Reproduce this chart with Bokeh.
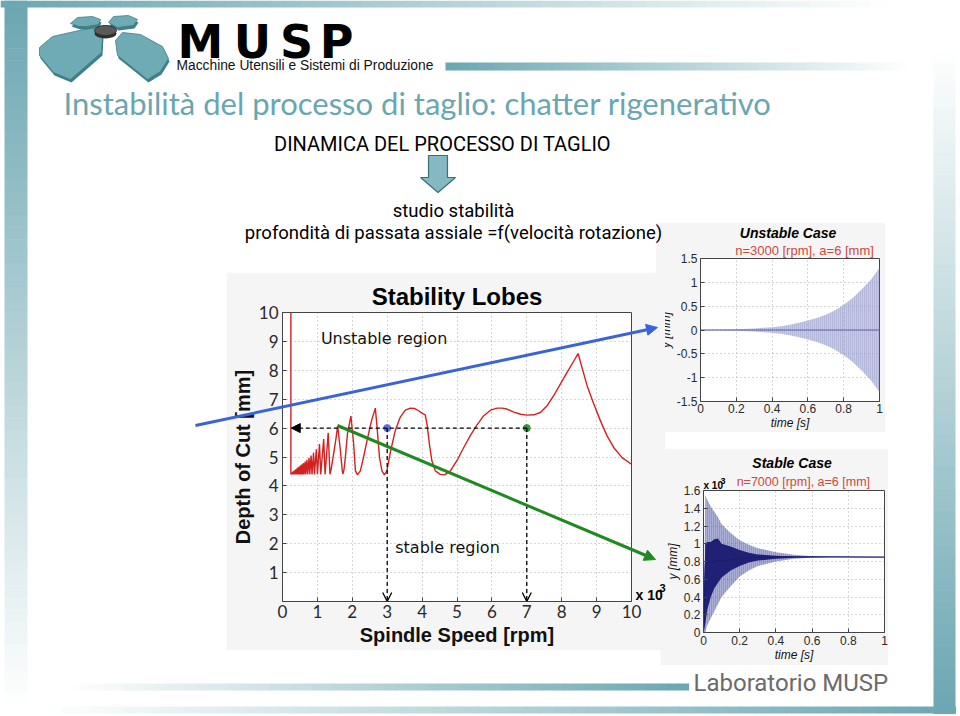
import numpy as np
from bokeh.plotting import figure
from bokeh.models import (Range1d, FixedTicker, NumeralTickFormatter, Label, Title,
                          Arrow, NormalHead, OpenHead, GridBox, Column)
from bokeh.embed import file_html
from bokeh.resources import INLINE

# ------------------------------------------------------------------ data
# stability lobe boundary (spindle speed in 10^3 rpm, depth of cut in mm)
lobe_speed_krpm = [
    0.24, 0.24,
    0.27, 0.28, 0.30, 0.31, 0.33, 0.34, 0.36, 0.37, 0.39, 0.40, 0.42, 0.43,
    0.45, 0.46, 0.48, 0.495, 0.52, 0.535, 0.56, 0.575, 0.60, 0.615, 0.65, 0.665,
    0.70, 0.72, 0.76, 0.78, 0.82, 0.845, 0.89, 0.915, 0.97, 1.00, 1.06, 1.095,
    1.18, 1.22, 1.31, 1.36, 1.40, 1.47, 1.53, 1.58,
    1.65, 1.71, 1.73, 1.76, 1.80, 1.86, 1.96,
    2.04, 2.09, 2.15, 2.23, 2.32, 2.44, 2.55, 2.66,
    2.71, 2.78, 2.85, 2.92, 2.99, 3.09, 3.23, 3.37, 3.52, 3.66, 3.78, 3.90, 4.02, 4.09,
    4.14, 4.21, 4.28, 4.38, 4.52, 4.65, 4.81, 5.00, 5.19, 5.38, 5.57, 5.76, 5.96,
    6.15, 6.29, 6.43, 6.63, 6.82, 7.01, 7.20, 7.39, 7.58, 7.77, 7.96, 8.15, 8.35, 8.47,
    8.58, 8.73, 8.92, 9.11, 9.30, 9.49, 9.73, 10.0,
]
lobe_depth_mm = [
    10.0, 4.40,
    4.46, 4.40, 4.49, 4.40, 4.52, 4.40, 4.55, 4.40, 4.58, 4.40, 4.61, 4.40,
    4.64, 4.40, 4.67, 4.40, 4.71, 4.40, 4.75, 4.40, 4.79, 4.40, 4.84, 4.40,
    4.90, 4.40, 4.97, 4.40, 5.05, 4.40, 5.15, 4.40, 5.27, 4.40, 5.45, 4.40,
    5.62, 4.40, 5.84, 4.40, 4.62, 5.15, 5.62, 6.08,
    5.33, 4.55, 4.41, 4.55, 4.98, 5.79, 6.42,
    5.44, 4.52, 4.38, 4.52, 4.98, 5.67, 6.25, 6.69,
    6.02, 4.98, 4.52, 4.38, 4.52, 5.16, 5.91, 6.37, 6.62, 6.69, 6.68, 6.60, 6.50, 6.46,
    6.14, 5.44, 4.87, 4.52, 4.40, 4.38, 4.52, 4.88, 5.32, 5.74, 6.10, 6.42, 6.62,
    6.69, 6.69, 6.66, 6.55, 6.48, 6.45, 6.46, 6.54, 6.77, 7.12, 7.52, 7.92, 8.33, 8.58,
    8.10, 7.46, 6.83, 6.25, 5.73, 5.33, 4.98, 4.75,
]
test_speed_krpm = [3, 7]
test_depth_mm = [6, 6]
test_colors = ["#5b6fe3", "#2f9a35"]
dashed_from_krpm = 0.25
speed_ticks = [0, 1, 2, 3, 4, 5, 6, 7, 8, 9, 10]
depth_ticks = [1, 2, 3, 4, 5, 6, 7, 8, 9, 10]

# unstable case (n=3000 rpm): envelope of the growing vibration
unstable_time_s = [0.0, 0.1, 0.2, 0.3, 0.35, 0.4, 0.45, 0.5, 0.55, 0.6, 0.65,
                   0.7, 0.75, 0.8, 0.85, 0.9, 0.95, 1.0]
unstable_env_mm = [0.004, 0.008, 0.015, 0.03, 0.045, 0.06, 0.08, 0.11, 0.15, 0.2, 0.25,
                   0.32, 0.41, 0.53, 0.67, 0.85, 1.05, 1.3]
unstable_yticks = [-1.5, -1, -0.5, 0, 0.5, 1, 1.5]
time_ticks = [0, 0.2, 0.4, 0.6, 0.8, 1.0]

# stable case (n=7000 rpm): envelope of the decaying vibration (x 10^-3 mm)
stable_time_s = [0.0, 0.01, 0.02, 0.04, 0.06, 0.08, 0.10, 0.15, 0.20, 0.25, 0.30,
                 0.40, 0.50, 0.60, 0.70, 1.00]
stable_upper = [0.0, 1.55, 1.50, 1.42, 1.36, 1.30, 1.22, 1.12, 1.04, 0.99, 0.95,
                0.905, 0.875, 0.86, 0.855, 0.85]
stable_lower = [0.0, 0.0, 0.08, 0.16, 0.24, 0.32, 0.40, 0.52, 0.63, 0.70, 0.75,
                0.80, 0.83, 0.842, 0.848, 0.85]
stable_core_upper = [0.0, 1.00, 1.02, 1.02, 1.05, 1.06, 1.00, 0.97, 0.93, 0.90, 0.88,
                     0.865, 0.857, 0.853, 0.851, 0.85]
stable_core_lower = [0.0, 0.10, 0.25, 0.40, 0.50, 0.56, 0.62, 0.70, 0.75, 0.79, 0.81,
                     0.83, 0.843, 0.848, 0.85, 0.85]
stable_yticks = [0, 0.2, 0.4, 0.6, 0.8, 1.0, 1.2, 1.4, 1.6]

# ------------------------------------------------------------------ helpers
TEAL = (108, 167, 178)
WHITE = (255, 255, 255)
COND = "Roboto"


def mix(c1, c2, t):
    return "#%02x%02x%02x" % tuple(int(round(a + (b - a) * t)) for a, b in zip(c1, c2))


def hgrad(p, x0, x1, y0, y1, c0, c1, n=60):
    e = np.linspace(x0, x1, n + 1)
    cols = [mix(c0, c1, i / (n - 1)) for i in range(n)]
    p.quad(left=e[:-1], right=e[1:] + 0.6, top=[y0] * n, bottom=[y1] * n,
           fill_color=cols, line_color=None)


def vgrad(p, x0, x1, y0, y1, c0, c1, n=60):
    e = np.linspace(y0, y1, n + 1)
    cols = [mix(c0, c1, i / (n - 1)) for i in range(n)]
    p.quad(left=[x0] * n, right=[x1] * n, top=e[:-1], bottom=e[1:] + 0.6,
           fill_color=cols, line_color=None)


def style_chart(p, tick_font, tick_size, label_size, label_style, tick_standoff, label_standoff):
    for ax in (p.xaxis[0], p.yaxis[0]):
        ax.major_tick_in = 4
        ax.major_tick_out = 0
        ax.minor_tick_line_color = None
        ax.axis_line_color = "#444444"
        ax.major_tick_line_color = "#444444"
        ax.major_label_text_font = tick_font
        ax.major_label_text_font_size = tick_size
        ax.major_label_text_color = "#2a2a2a"
        ax.major_label_standoff = tick_standoff
        ax.axis_label_text_font = "Liberation Sans"
        ax.axis_label_text_font_size = label_size
        ax.axis_label_text_font_style = label_style
        ax.axis_label_text_color = "#111111"
        ax.axis_label_standoff = label_standoff
    p.grid.grid_line_dash = "1 3"
    p.grid.grid_line_color = "#9a9a9a"
    p.grid.grid_line_alpha = 0.8
    p.outline_line_color = "#444444"
    p.background_fill_color = "white"
    p.border_fill_color = "#f5f5f5"


def page_figure():
    f = figure(width=960, height=716, x_range=Range1d(0, 960), y_range=Range1d(716, 0),
               x_axis_type=None, y_axis_type=None, output_backend="svg",
               toolbar_location=None, min_border_left=0, min_border_right=0,
               min_border_top=0, min_border_bottom=0, outline_line_color=None)
    f.grid.visible = False
    return f


# ------------------------------------------------------------------ page background
bg = page_figure()
bg.background_fill_color = "white"
bg.border_fill_color = "white"

hgrad(bg, 0, 900, 0, 7, TEAL, WHITE)
vgrad(bg, 4, 27, 0, 716, TEAL, WHITE)
hgrad(bg, 445, 915, 62, 70, TEAL, WHITE)
vgrad(bg, 933, 955, 40, 713, WHITE, TEAL)
hgrad(bg, 30, 955, 706, 713, WHITE, TEAL)
hgrad(bg, 60, 688, 683, 690, WHITE, TEAL)

# logo plates
plates = [
    [(39, 47), (52, 36), (92, 27), (102, 34), (101, 52), (70, 79), (53, 72), (39, 55)],
    [(115, 40), (122, 32), (140, 34), (162, 46), (168, 58), (160, 71), (147, 79), (117, 55)],
    [(70, 23), (77, 17), (92, 16), (100, 19), (98, 24), (86, 26), (79, 26)],
    [(108, 22), (113, 16), (128, 15), (137, 19), (133, 25), (117, 27)],
]
for pl in plates:
    xs = [v[0] for v in pl]
    ys = [v[1] for v in pl]
    bg.patch([x + 1 for x in xs], [y + 3 for y in ys], fill_color="#3f7f89", line_color=None)
    bg.patch(xs, ys, fill_color="#6eabb5", line_color="#3f7f89", line_width=0.8)
bg.ellipse(x=[105], y=[33], width=[22], height=[10], fill_color="#2e2e2e", line_color=None)
bg.ellipse(x=[105], y=[30], width=[22], height=[10], fill_color="#5a5a5a", line_color="#333333")

for letter, lx in zip("MUSP", [200, 252, 296, 336]):
    bg.add_layout(Label(x=lx, y=41, text=letter, text_align="center", text_baseline="middle",
                        text_font="DejaVu Sans", text_font_style="bold",
                        text_font_size="46px", text_color="black"))
bg.add_layout(Label(x=176, y=65, text="Macchine Utensili e Sistemi di Produzione",
                    text_baseline="middle", text_font="Liberation Sans",
                    text_font_size="13.8px", text_color="#111111"))

bg.add_layout(Label(x=63, y=102, text="Instabilità del processo di taglio: chatter rigenerativo",
                    text_baseline="middle", text_font="Lato", text_font_size="31px",
                    text_color="#6aa6b0"))
bg.add_layout(Label(x=442, y=143, text="DINAMICA DEL PROCESSO DI TAGLIO",
                    text_align="center", text_baseline="middle", text_font=COND,
                    text_font_size="20px", text_color="black"))
bg.patch([428, 447, 447, 455, 437.5, 420, 428], [155, 155, 177, 177, 192, 177, 177],
         fill_color="#86b8c1", line_color="#3d6e77", line_width=1.2)
bg.add_layout(Label(x=453, y=210, text="studio stabilità", text_align="center",
                    text_baseline="middle", text_font=COND, text_font_size="18.5px",
                    text_color="black"))
bg.add_layout(Label(x=693, y=682, text="Laboratorio MUSP", text_baseline="middle",
                    text_font=COND, text_font_size="24px", text_color="#6b6b6b"))

# ------------------------------------------------------------------ stability lobes chart
main = figure(width=439, height=378, x_range=Range1d(0, 10), y_range=Range1d(0, 10),
              output_backend="svg", toolbar_location=None,
              min_border_left=56, min_border_right=34, min_border_top=40, min_border_bottom=49,
              title="Stability Lobes", x_axis_label="Spindle Speed [rpm]",
              y_axis_label="Depth of Cut [mm]")
style_chart(main, "Lato", "17px", "20px", "bold", 3, 3)
main.title.align = "center"
main.title.text_font = "Liberation Sans"
main.title.text_font_size = "24px"
main.title.text_font_style = "bold"
main.title.text_color = "black"
main.title.standoff = 6
main.xaxis.ticker = FixedTicker(ticks=speed_ticks)
main.yaxis.ticker = FixedTicker(ticks=depth_ticks)
main.yaxis.major_label_standoff = 4
main.yaxis.axis_label_standoff = 2

main.line(lobe_speed_krpm, lobe_depth_mm, line_color="#d42020", line_width=1.4)

for sx, sy in zip(test_speed_krpm, test_depth_mm):
    main.add_layout(Arrow(x_start=sx, y_start=sy, x_end=sx, y_end=0,
                          end=OpenHead(size=9, line_color="black", line_width=1.3),
                          line_color="black", line_width=1.3, line_dash="4 3"))
main.add_layout(Arrow(x_start=max(test_speed_krpm), y_start=test_depth_mm[0],
                      x_end=dashed_from_krpm, y_end=test_depth_mm[0],
                      end=NormalHead(size=9, fill_color="black", line_color="black"),
                      line_color="black", line_width=1.3, line_dash="4 3"))
main.scatter(test_speed_krpm, test_depth_mm, size=7, fill_color=test_colors, line_color=test_colors)

main.add_layout(Label(x=1.1, y=9.1, text="Unstable region", text_baseline="middle",
                      text_font="DejaVu Sans", text_font_size="16px", text_color="#111111"))
main.add_layout(Label(x=3.23, y=1.86, text="stable region", text_baseline="middle",
                      text_font="DejaVu Sans", text_font_size="16px", text_color="#111111"))

# ------------------------------------------------------------------ unstable case
uns = figure(width=230, height=210, x_range=Range1d(0, 1), y_range=Range1d(-1.5, 1.5),
             output_backend="svg", toolbar_location=None,
             min_border_left=42, min_border_right=6, min_border_top=35, min_border_bottom=28,
             x_axis_label="time [s]", y_axis_label="y [mm]")
style_chart(uns, "Liberation Sans", "12px", "12px", "italic", 2, 0)
uns.yaxis.major_label_standoff = 3
uns.yaxis.axis_label_standoff = 1
uns.xaxis.ticker = FixedTicker(ticks=time_ticks)
uns.yaxis.ticker = FixedTicker(ticks=unstable_yticks)
uns.xaxis.formatter = NumeralTickFormatter(format="0.[0]")
uns.yaxis.formatter = NumeralTickFormatter(format="0.[0]")
uns.add_layout(Title(text="n=3000 [rpm],  a=6 [mm]", align="right", offset=2, standoff=1,
                     text_font="Liberation Sans", text_font_size="13px",
                     text_font_style="normal", text_color="#d0473e"), "above")
uns.add_layout(Title(text="Unstable  Case", align="center", standoff=0,
                     text_font="Liberation Sans", text_font_size="14px",
                     text_font_style="bold italic", text_color="black"), "above")
uns.varea(x=unstable_time_s, y1=[-v for v in unstable_env_mm], y2=unstable_env_mm,
          fill_color="#a4a9d4", fill_alpha=0.6, hatch_pattern="vertical_line",
          hatch_color="#2d3590", hatch_alpha=0.45, hatch_scale=2, hatch_weight=0.6)
uns.line(unstable_time_s, [0] * len(unstable_time_s), line_color="#5a62a8", line_width=1)

# ------------------------------------------------------------------ stable case
stab = figure(width=228, height=217, x_range=Range1d(0, 1), y_range=Range1d(0, 1.6),
              output_backend="svg", toolbar_location=None,
              min_border_left=43, min_border_right=4, min_border_top=42, min_border_bottom=33,
              x_axis_label="time [s]", y_axis_label="y [mm]")
style_chart(stab, "Liberation Sans", "12px", "12px", "italic", 3, 0)
stab.yaxis.major_label_standoff = 3
stab.yaxis.axis_label_standoff = 1
stab.xaxis.ticker = FixedTicker(ticks=time_ticks)
stab.yaxis.ticker = FixedTicker(ticks=stable_yticks)
stab.xaxis.formatter = NumeralTickFormatter(format="0.[0]")
stab.yaxis.formatter = NumeralTickFormatter(format="0.[0]")
stab.add_layout(Title(text="n=7000 [rpm],  a=6 [mm]", align="right", offset=11, standoff=4,
                      text_font="Liberation Sans", text_font_size="12.5px",
                      text_font_style="normal", text_color="#d0473e"), "above")
stab.add_layout(Title(text="Stable  Case", align="center", standoff=0,
                      text_font="Liberation Sans", text_font_size="14px",
                      text_font_style="bold italic", text_color="black"), "above")
stab.varea(x=stable_time_s, y1=stable_lower, y2=stable_upper,
           fill_color="#5a5fae", fill_alpha=0.5, hatch_pattern="vertical_line",
           hatch_color="#1c1f80", hatch_alpha=0.6, hatch_scale=2, hatch_weight=0.6)
stab.varea(x=stable_time_s, y1=stable_core_lower, y2=stable_core_upper,
           fill_color="#15166e", fill_alpha=0.92)
stab.line(stable_time_s, [(a + b) / 2 for a, b in zip(stable_upper, stable_lower)],
          line_color="#1a1a70", line_width=1.2)

# ------------------------------------------------------------------ callout overlay
top = page_figure()
top.background_fill_alpha = 0
top.border_fill_alpha = 0
top.add_layout(Label(x=453, y=232, text="profondità di passata assiale =f(velocità rotazione)",
                     text_align="center", text_baseline="middle", text_font=COND,
                     text_font_size="18.5px", text_color="black"))
top.add_layout(Arrow(x_start=195, y_start=425, x_end=657, y_end=327,
                     end=NormalHead(size=11, fill_color="#3b63d9", line_color="#3b63d9"),
                     line_color="#3b63d9", line_width=3))
top.add_layout(Arrow(x_start=337, y_start=425, x_end=655, y_end=559,
                     end=NormalHead(size=11, fill_color="#1f8a1f", line_color="#1f8a1f"),
                     line_color="#1f8a1f", line_width=3))
# axis multipliers (x 10^3) of the two charts
for tx, ty, sz, sup, dx, dy in [(635, 594, "14px", "11px", 24, 7), (703, 485, "10px", "9px", 17, 5)]:
    top.add_layout(Label(x=tx, y=ty, text="x 10", text_baseline="middle",
                         text_font="Liberation Sans", text_font_style="bold",
                         text_font_size=sz, text_color="black"))
    top.add_layout(Label(x=tx + dx, y=ty - dy, text="3", text_baseline="middle",
                         text_font="Liberation Sans", text_font_style="bold",
                         text_font_size=sup, text_color="black"))

# ------------------------------------------------------------------ layout (overlapping in one cell)
placements = [(bg, 0, 0), (uns, 655, 222), (stab, 660, 448), (main, 226, 272), (top, 0, 0)]
wrapped = []
for f, left, topy in placements:
    wrapped.append((Column(children=[f], margin=(topy, 0, 0, left)), 0, 0))
grid = GridBox(children=wrapped)

open("out.html", "w").write(file_html(grid, INLINE))
